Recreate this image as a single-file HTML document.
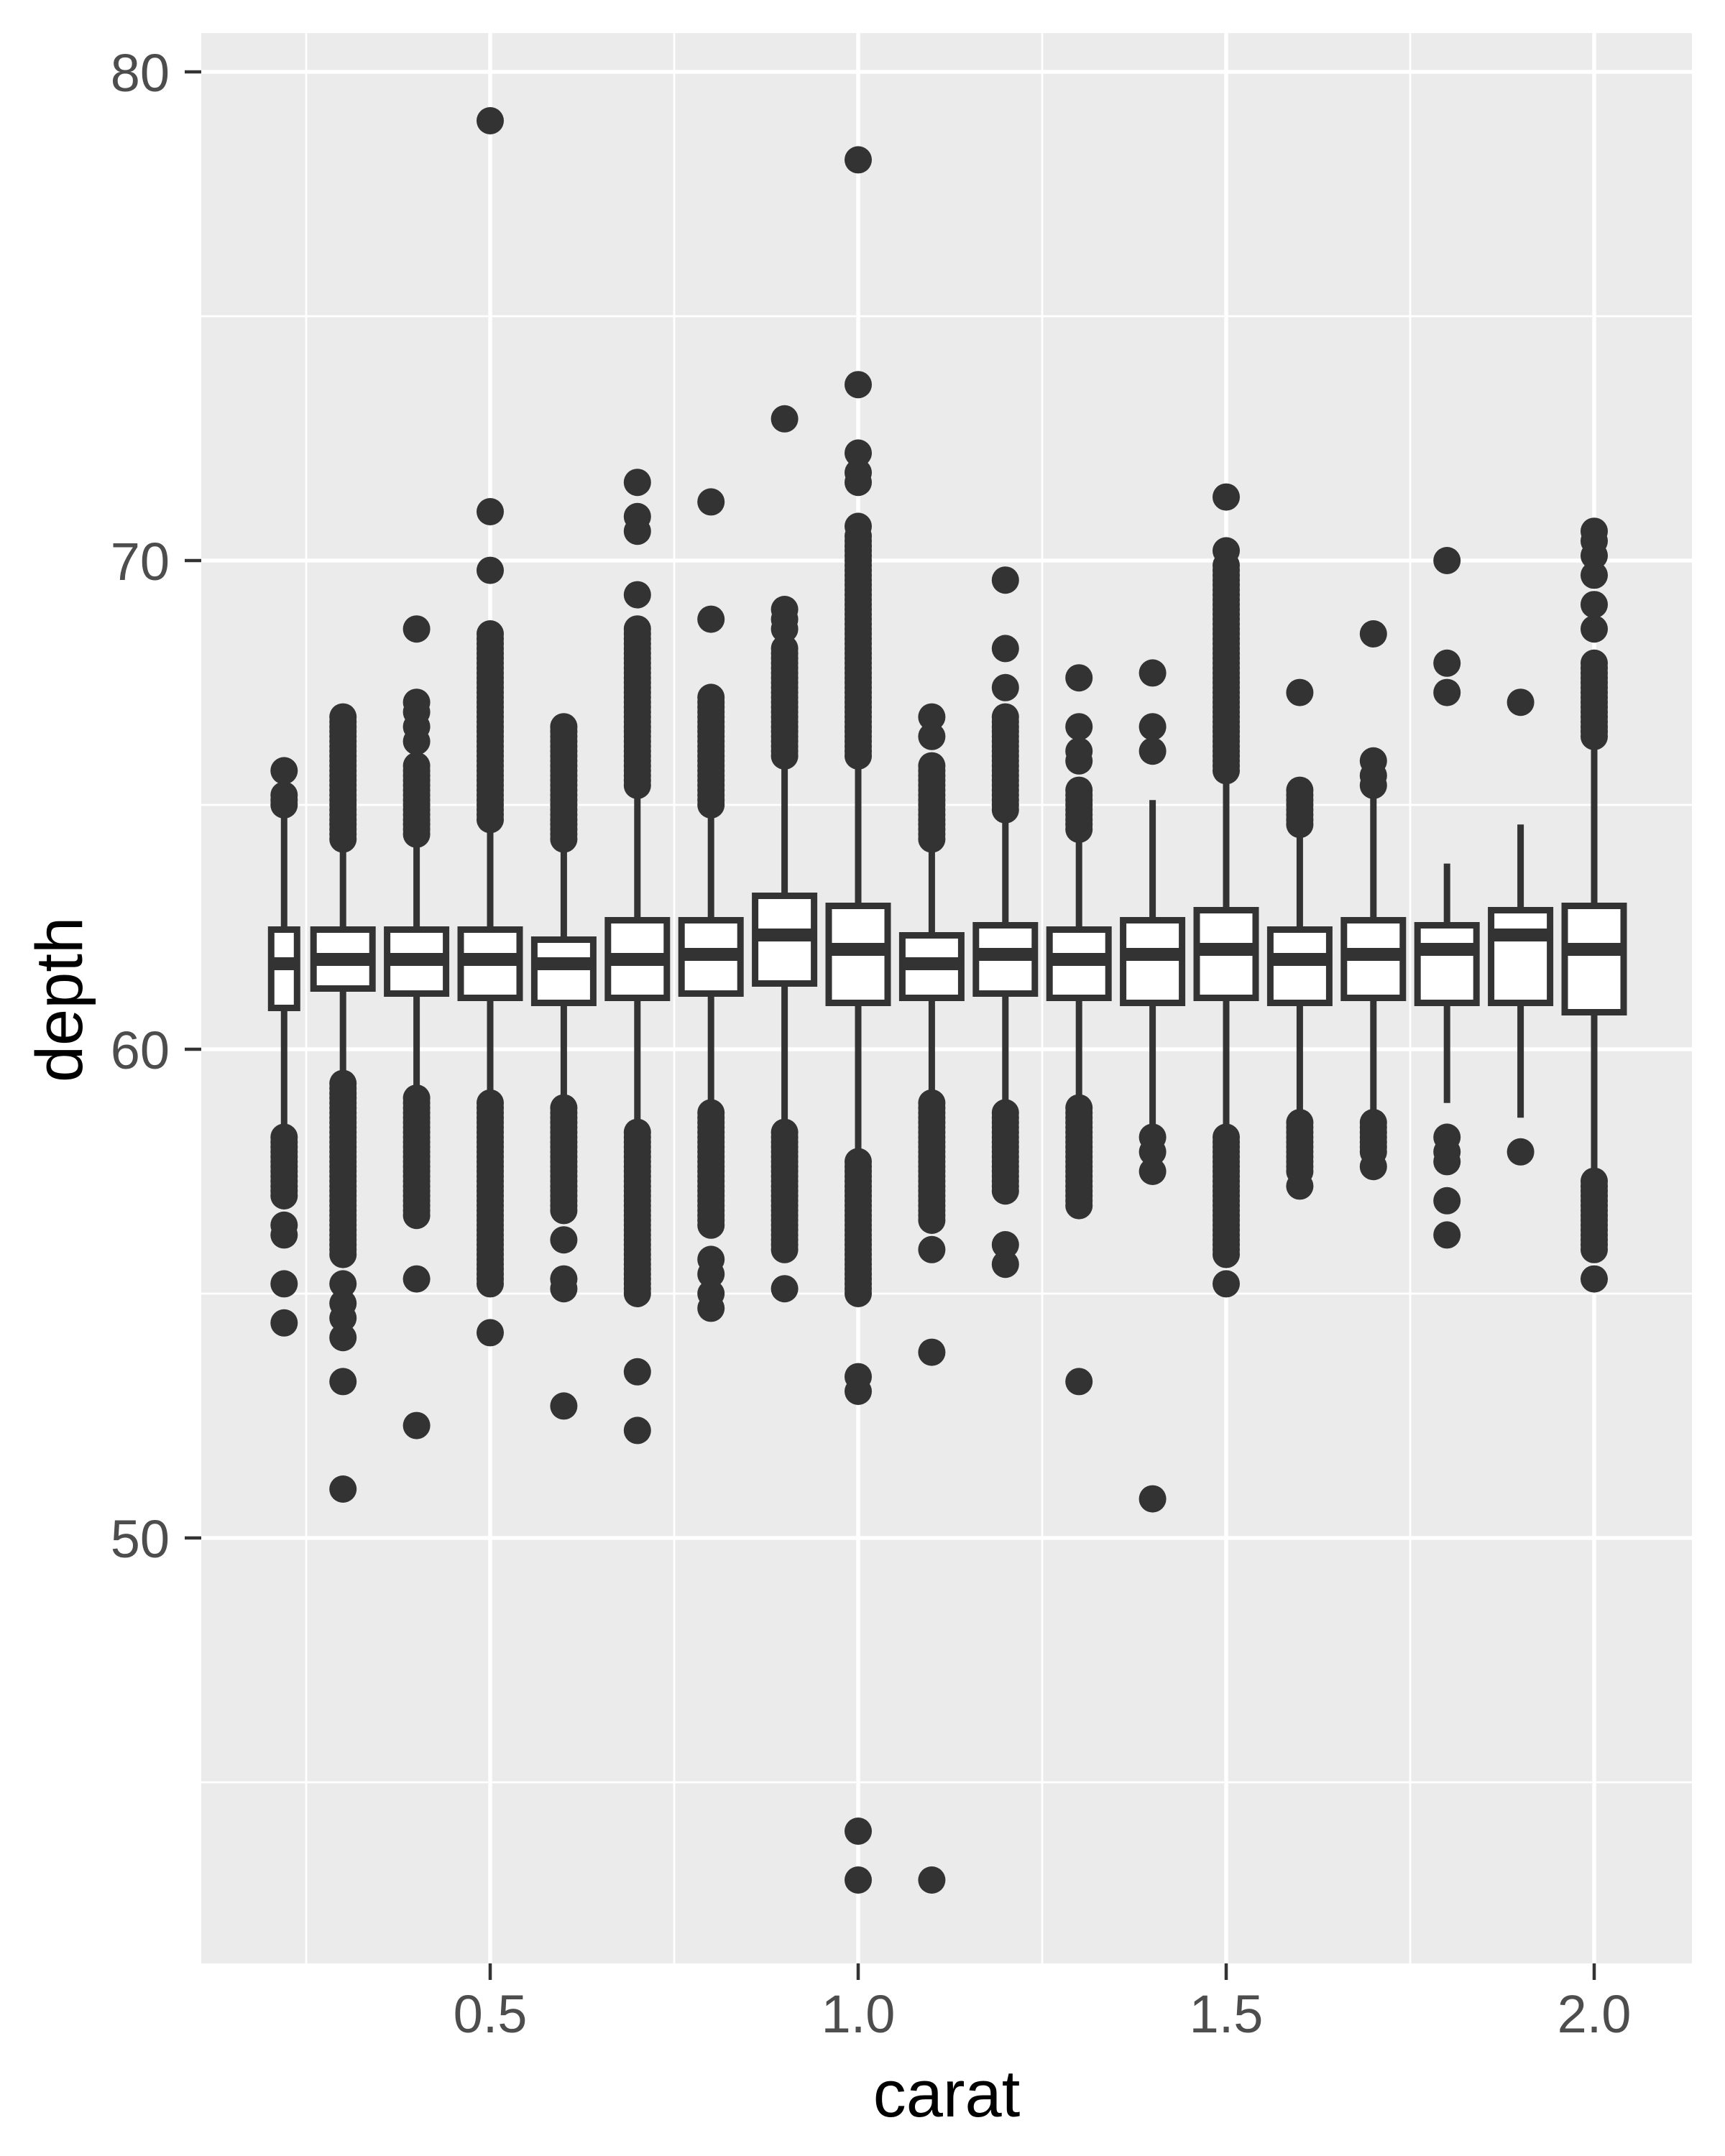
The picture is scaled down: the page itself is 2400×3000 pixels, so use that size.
<!DOCTYPE html>
<html><head><meta charset="utf-8"><style>
html,body{margin:0;padding:0;background:#fff}
svg{display:block}
</style></head><body>
<svg id="s" xmlns="http://www.w3.org/2000/svg" width="2400" height="3000" viewBox="0 0 2400 3000">
<rect x="0" y="0" width="2400" height="3000" fill="#fff"/>
<rect x="280" y="46" width="2074" height="2686" fill="#ebebeb"/>
<g stroke="#fff" stroke-width="2.8">
<line x1="280" x2="2354" y1="440" y2="440"/><line x1="280" x2="2354" y1="1120" y2="1120"/>
<line x1="280" x2="2354" y1="1800" y2="1800"/><line x1="280" x2="2354" y1="2480" y2="2480"/>
<line y1="46" y2="2732" x1="426" x2="426"/><line y1="46" y2="2732" x1="938" x2="938"/>
<line y1="46" y2="2732" x1="1450" x2="1450"/><line y1="46" y2="2732" x1="1962" x2="1962"/>
</g>
<g stroke="#fff" stroke-width="5.5">
<line x1="280" x2="2354" y1="100" y2="100"/><line x1="280" x2="2354" y1="780" y2="780"/>
<line x1="280" x2="2354" y1="1460" y2="1460"/><line x1="280" x2="2354" y1="2140" y2="2140"/>
<line y1="46" y2="2732" x1="682" x2="682"/><line y1="46" y2="2732" x1="1194" x2="1194"/>
<line y1="46" y2="2732" x1="1706" x2="1706"/><line y1="46" y2="2732" x1="2218" x2="2218"/>
</g>
<g id="data"></g>
<g stroke="#333" stroke-width="4.5">
<line x1="257" x2="280" y1="100" y2="100"/><line x1="257" x2="280" y1="780" y2="780"/>
<line x1="257" x2="280" y1="1460" y2="1460"/><line x1="257" x2="280" y1="2140" y2="2140"/>
<line y1="2732" y2="2755" x1="682" x2="682"/><line y1="2732" y2="2755" x1="1194" x2="1194"/>
<line y1="2732" y2="2755" x1="1706" x2="1706"/><line y1="2732" y2="2755" x1="2218" x2="2218"/>
</g>
<g font-family="Liberation Sans, sans-serif" font-size="74" fill="#4d4d4d">
<text x="236" y="127" text-anchor="end">80</text>
<text x="236" y="807" text-anchor="end">70</text>
<text x="236" y="1487" text-anchor="end">60</text>
<text x="236" y="2167" text-anchor="end">50</text>
<text x="682" y="2828" text-anchor="middle">0.5</text>
<text x="1194" y="2828" text-anchor="middle">1.0</text>
<text x="1706" y="2828" text-anchor="middle">1.5</text>
<text x="2218" y="2828" text-anchor="middle">2.0</text>
</g>
<g font-family="Liberation Sans, sans-serif" font-size="92" fill="#000">
<text x="1317" y="2945" text-anchor="middle">carat</text>
<text transform="translate(114,1391) rotate(-90)" text-anchor="middle">depth</text>
</g>
</svg>
<script>
(function(){
var g=document.getElementById('data'),NS='http://www.w3.org/2000/svg';
function Y(d){return 100+(80-d)*68;}
function el(t,a){var e=document.createElementNS(NS,t);for(var k in a)e.setAttribute(k,a[k]);g.appendChild(e);return e;}
var B=[
[0.22,1289,1407,1341,64.8,58.3,[65.0,65.1,65.2,65.7],[[58.2,57.0],56.4,56.2,55.2,54.4],45],
[0.30,1289,1380,1335,64.2,59.4,[[64.3,66.8]],[[59.3,55.8],55.2,54.8,54.5,54.1,53.2,51.0]],
[0.40,1289,1387,1335,64.3,59.1,[[64.4,65.8],66.3,66.6,66.9,67.1,68.6],[[59.0,56.6],55.3,52.3]],
[0.50,1289,1393,1335,64.6,58.9,[[64.7,68.5],69.8,71.0,79.0],[[58.9,55.2],54.2]],
[0.60,1303,1400,1341,64.2,58.9,[[64.3,66.6]],[[58.8,56.7],56.1,55.3,55.1,52.7]],
[0.70,1276,1393,1335,65.3,58.4,[[65.4,68.6],69.3,70.6,70.9,71.6],[[58.3,55.0],53.4,52.2]],
[0.80,1276,1387,1328,64.9,58.6,[[65.0,67.2],68.8,71.2],[[58.7,56.4],55.7,55.4,55.0,54.7]],
[0.90,1242,1373,1301,65.9,58.4,[[66.0,68.2],68.6,68.8,69.0,72.9],[[58.3,55.9],55.1]],
[1.00,1256,1400,1321,65.9,57.8,[[66.0,70.5],70.7,71.6,71.8,72.2,73.6,78.2],[[57.7,55.0],53.3,53.0,44.0,43.0]],
[1.10,1297,1393,1341,64.2,59.0,[[64.3,65.8],66.4,66.8],[[58.9,56.5],55.9,53.8,43.0]],
[1.20,1283,1387,1328,64.8,58.8,[[64.9,66.8],67.4,68.2,69.6],[[58.7,57.1],56.0,55.6]],
[1.30,1289,1393,1335,64.4,58.8,[[64.5,65.3],65.9,66.1,66.6,67.6],[[58.8,56.8],53.2]],
[1.40,1276,1400,1328,65.1,58.3,[66.1,66.6,67.7],[58.2,57.9,57.5,50.8]],
[1.50,1262,1393,1321,65.6,58.3,[[65.7,69.9],70.2,71.3],[[58.2,55.8],55.2]],
[1.60,1289,1400,1335,64.4,58.6,[[64.6,65.3],67.3],[[58.5,57.5],57.2]],
[1.70,1276,1393,1328,65.2,58.6,[65.4,65.6,65.9,68.5],[[58.5,57.9],57.6]],
[1.80,1283,1400,1321,63.8,58.9,[67.3,67.9,70.0],[58.2,57.9,57.7,56.9,56.2]],
[1.90,1262,1400,1301,64.6,58.6,[67.1],[57.9]],
[2.00,1256,1413,1321,66.3,57.4,[[66.4,67.9],68.6,69.1,69.7,70.1,70.4,70.6],[[57.3,55.9],55.3]]
];
B.forEach(function(b){
 var x=170+1024*b[0], w=(b[8]||91)-9, top=b[1]+4.5, bot=b[2]-4.5;
 el('line',{x1:x,x2:x,y1:Y(b[4]),y2:top,stroke:'#333','stroke-width':9});
 el('line',{x1:x,x2:x,y1:bot,y2:Y(b[5]),stroke:'#333','stroke-width':9});
 function pts(list){list.forEach(function(v){
  if(typeof v==='number'){el('circle',{cx:x,cy:Y(v),r:19,fill:'#333'});}
  else{var a=Math.min(v[0],v[1]),z=Math.max(v[0],v[1]);for(var d=a;d<=z+1e-6;d+=0.1)el('circle',{cx:x,cy:Y(d),r:19,fill:'#333'});}
 });}
 pts(b[6]);pts(b[7]);
 el('rect',{x:x-w/2,y:top,width:w,height:bot-top,fill:'#fff',stroke:'#333','stroke-width':9});
 el('line',{x1:x-w/2,x2:x+w/2,y1:b[3],y2:b[3],stroke:'#333','stroke-width':18});
});
})();
</script>
</body></html>
